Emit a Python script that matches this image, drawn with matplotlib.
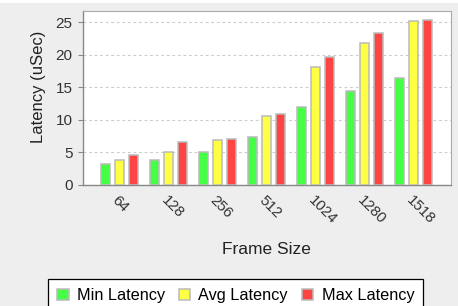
import matplotlib
matplotlib.use('Agg')
import matplotlib.pyplot as plt
import numpy as np
from matplotlib.patches import Rectangle

frame_sizes = ['64', '128', '256', '512', '1024', '1280', '1518']
min_latency = [3.2, 3.85, 4.95, 7.35, 12.0, 14.35, 16.4]
avg_latency = [3.8, 4.95, 6.85, 10.6, 18.1, 21.8, 25.2]
max_latency = [4.5, 6.6, 7.05, 10.8, 19.7, 23.4, 25.4]
series_names = ['Min Latency', 'Avg Latency', 'Max Latency']
colors = ['#44FF44', '#FFFF44', '#FF4444']
y_ticks = [0, 5, 10, 15, 20, 25]

plt.rcParams['font.family'] = ['Liberation Sans', 'DejaVu Sans']

W, H = 458, 306
fig = plt.figure(figsize=(W / 100, H / 100), dpi=100, facecolor='#EEEEEE')
# thin white strip at the very top (cut-off title area)
fig.patches.append(Rectangle((0, 1 - 3.3 / H), 1, 3.3 / H, transform=fig.transFigure,
                             facecolor='white', edgecolor='none'))

ax = fig.add_axes([83 / W, 1 - 184.5 / H, 368 / W, (184.5 - 10.7) / H])
ax.set_facecolor('white')

x = np.arange(len(frame_sizes))
for i, (vals, c, name) in enumerate(zip([min_latency, avg_latency, max_latency], colors, series_names)):
    ax.bar(x + (i - 1) * 0.286, vals, width=0.17, color=c, edgecolor='#BBBBBB',
           linewidth=1.1, label=name, zorder=3)

ax.set_xlim(-0.745, 6.765)
ax.set_ylim(0, 26.8)
ax.set_yticks(y_ticks)
ax.yaxis.grid(True, linestyle=(0, (2.5, 2.5)), color='#CCCCCC', linewidth=0.8)
ax.set_axisbelow(True)

ax.set_xticks(x)
ax.set_xticklabels(frame_sizes, rotation=-45, ha='left', va='top', rotation_mode='anchor',
                   fontsize=10.8, color='#333333')
ax.tick_params(axis='x', length=0, pad=6)
ax.tick_params(axis='y', length=3.5, width=0.8, color='#888888', pad=4,
               labelsize=11, labelcolor='#333333')

for s in ['left', 'bottom']:
    ax.spines[s].set_color('#888888')
    ax.spines[s].set_linewidth(1.0)
for s in ['top', 'right']:
    ax.spines[s].set_color('#AAAAAA')
    ax.spines[s].set_linewidth(0.8)

ax.set_xlabel('Frame Size', fontsize=12.5, color='#222222')
ax.xaxis.set_label_coords((266.5 - 83) / 368, (184.5 - 242) / (184.5 - 10.7))
ax.set_ylabel('Latency (uSec)', fontsize=12, color='#222222')
ax.yaxis.set_label_coords((46 - 83) / 368, (184.5 - 87) / (184.5 - 10.7))

handles, labels = ax.get_legend_handles_labels()
leg = fig.legend(handles, labels, ncol=3, loc='upper center',
                 bbox_to_anchor=(235.5 / W, 1 - 279.3 / H), fontsize=11.7,
                 frameon=True, fancybox=False, edgecolor='black', facecolor='white',
                 framealpha=1, handlelength=0.72, handleheight=0.72,
                 handletextpad=0.5, columnspacing=0.85, borderpad=0.55, borderaxespad=0)
leg.get_frame().set_linewidth(0.9)

fig.savefig('out.png', dpi=100, facecolor=fig.get_facecolor())
